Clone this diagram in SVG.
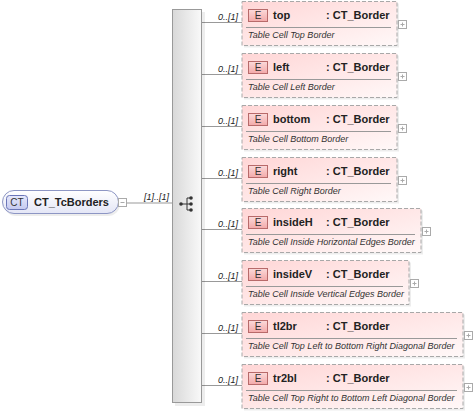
<svg xmlns="http://www.w3.org/2000/svg" width="473" height="415" viewBox="0 0 473 415">
<style>
.lbl{font-family:"Liberation Sans",Arial,sans-serif;font-size:9px;font-style:italic;fill:#222}
.nm{font-family:"Liberation Sans",Arial,sans-serif;font-size:11px;font-weight:bold;fill:#222}
.ds{font-family:"Liberation Sans",Arial,sans-serif;font-size:9px;font-style:italic;fill:#333}
.box{fill:url(#pg);stroke:#a8a8a8;stroke-dasharray:4,2;stroke-width:1}
.shd{fill:#000;opacity:0.07}
.badge{fill:url(#bg);stroke:#b86a6a;stroke-width:1}
.bt{font-family:"Liberation Sans",Arial,sans-serif;font-size:10px;fill:#333;text-anchor:middle}
.sep{stroke:#999;stroke-width:1}
.pm{fill:#fff;stroke:#aaa;stroke-width:1}
.pmc{stroke:#aaa;stroke-width:1}
.con{stroke:#999;stroke-width:1;fill:none}
</style>
<defs>
<linearGradient id="pg" x1="0" y1="0" x2="1" y2="1">
<stop offset="0" stop-color="#ffd6d6"/>
<stop offset="1" stop-color="#fff8f8"/>
</linearGradient>
<linearGradient id="bg" x1="0" y1="0" x2="0" y2="1">
<stop offset="0" stop-color="#fbdada"/>
<stop offset="1" stop-color="#f3a9a9"/>
</linearGradient>
<linearGradient id="sq" x1="0" y1="0" x2="1" y2="0">
<stop offset="0" stop-color="#d8d8d8"/>
<stop offset="1" stop-color="#f9f9f9"/>
</linearGradient>
<linearGradient id="rg" x1="0" y1="0" x2="0" y2="1">
<stop offset="0" stop-color="#ffffff"/>
<stop offset="1" stop-color="#e4e6f6"/>
</linearGradient>
<linearGradient id="cg" x1="0" y1="0" x2="0" y2="1">
<stop offset="0" stop-color="#e6e8fb"/>
<stop offset="1" stop-color="#c4c9ef"/>
</linearGradient>
</defs>

<g id="connectors">
<line class="con" x1="127" y1="203" x2="172" y2="203"/>
<text class="lbl" x="144" y="200">[1]..[1]</text>
<line class="con" x1="202" y1="22.5" x2="242" y2="22.5"/>
<line class="con" x1="202" y1="74.5" x2="242" y2="74.5"/>
<line class="con" x1="202" y1="126.5" x2="242" y2="126.5"/>
<line class="con" x1="202" y1="178.5" x2="242" y2="178.5"/>
<line class="con" x1="202" y1="229.5" x2="242" y2="229.5"/>
<line class="con" x1="202" y1="281.5" x2="242" y2="281.5"/>
<line class="con" x1="202" y1="333.5" x2="242" y2="333.5"/>
<line class="con" x1="202" y1="385.5" x2="242" y2="385.5"/>
<g class="lbl" text-anchor="end">
<text x="238" y="20">0..[1]</text>
<text x="238" y="72">0..[1]</text>
<text x="238" y="124">0..[1]</text>
<text x="238" y="176">0..[1]</text>
<text x="238" y="227">0..[1]</text>
<text x="238" y="279">0..[1]</text>
<text x="238" y="331">0..[1]</text>
<text x="238" y="383">0..[1]</text>
</g>
</g>

<g id="CT_TcBorders">
<rect x="4" y="192" width="116" height="24" rx="12" class="shd"/>
<rect x="2.5" y="190.5" width="116" height="23" rx="11.5" fill="url(#rg)" stroke="#8d96c4"/>
<rect x="6.5" y="195.5" width="21" height="14" rx="3" fill="url(#cg)" stroke="#6b76b8"/>
<text x="17" y="206" class="bt">CT</text>
<text x="34" y="206" class="nm">CT_TcBorders</text>
<rect x="118.5" y="198.5" width="8" height="8" class="pm"/>
<line x1="120.5" y1="202.5" x2="124.5" y2="202.5" class="pmc"/>
</g>

<g id="sequence">
<rect x="175" y="12" width="30" height="394" class="shd"/>
<rect x="172.5" y="9.5" width="29" height="393" fill="url(#sq)" stroke="#999"/>
<g stroke="#333" stroke-width="1" fill="#333">
<line x1="181" y1="204" x2="187" y2="204"/>
<line x1="187" y1="198" x2="187" y2="210"/>
<line x1="187" y1="198" x2="191" y2="198"/>
<line x1="187" y1="204" x2="191" y2="204"/>
<line x1="187" y1="210" x2="191" y2="210"/>
<circle cx="181" cy="204" r="1.8" stroke="none"/>
<circle cx="191" cy="198" r="1.8" stroke="none"/>
<circle cx="191" cy="204" r="1.8" stroke="none"/>
<circle cx="191" cy="210" r="1.8" stroke="none"/>
</g>
</g>

<g id="top">
<rect x="244" y="3.5" width="155" height="44" class="shd"/>
<rect x="242" y="1.5" width="155" height="44" class="box"/>
<rect x="248.5" y="9.5" width="19" height="12" class="badge"/>
<text x="258" y="19" class="bt">E</text>
<text x="273" y="19" class="nm">top</text>
<text x="326" y="19" class="nm">: CT_Border</text>
<line x1="246" y1="27.5" x2="391" y2="27.5" class="sep"/>
<text x="248" y="38" class="ds">Table Cell Top Border</text>
<rect x="398.5" y="20.5" width="8" height="8" class="pm"/>
<path d="M400.5 24.5h4M402.5 22.5v4" class="pmc"/>
</g>

<g id="left">
<rect x="244" y="55.5" width="155" height="44" class="shd"/>
<rect x="242" y="53.5" width="155" height="44" class="box"/>
<rect x="248.5" y="61.5" width="19" height="12" class="badge"/>
<text x="258" y="71" class="bt">E</text>
<text x="273" y="71" class="nm">left</text>
<text x="326" y="71" class="nm">: CT_Border</text>
<line x1="246" y1="79.5" x2="391" y2="79.5" class="sep"/>
<text x="248" y="90" class="ds">Table Cell Left Border</text>
<rect x="398.5" y="72.5" width="8" height="8" class="pm"/>
<path d="M400.5 76.5h4M402.5 74.5v4" class="pmc"/>
</g>

<g id="bottom">
<rect x="244" y="107.5" width="155" height="44" class="shd"/>
<rect x="242" y="105.5" width="155" height="44" class="box"/>
<rect x="248.5" y="113.5" width="19" height="12" class="badge"/>
<text x="258" y="123" class="bt">E</text>
<text x="273" y="123" class="nm">bottom</text>
<text x="326" y="123" class="nm">: CT_Border</text>
<line x1="246" y1="131.5" x2="391" y2="131.5" class="sep"/>
<text x="248" y="142" class="ds">Table Cell Bottom Border</text>
<rect x="398.5" y="124.5" width="8" height="8" class="pm"/>
<path d="M400.5 128.5h4M402.5 126.5v4" class="pmc"/>
</g>

<g id="right">
<rect x="244" y="159.5" width="155" height="44" class="shd"/>
<rect x="242" y="157.5" width="155" height="44" class="box"/>
<rect x="248.5" y="165.5" width="19" height="12" class="badge"/>
<text x="258" y="175" class="bt">E</text>
<text x="273" y="175" class="nm">right</text>
<text x="326" y="175" class="nm">: CT_Border</text>
<line x1="246" y1="183.5" x2="391" y2="183.5" class="sep"/>
<text x="248" y="194" class="ds">Table Cell Right Border</text>
<rect x="398.5" y="176.5" width="8" height="8" class="pm"/>
<path d="M400.5 180.5h4M402.5 178.5v4" class="pmc"/>
</g>

<g id="insideH">
<rect x="244" y="210.5" width="179" height="44" class="shd"/>
<rect x="242" y="208.5" width="179" height="44" class="box"/>
<rect x="248.5" y="216.5" width="19" height="12" class="badge"/>
<text x="258" y="226" class="bt">E</text>
<text x="273" y="226" class="nm">insideH</text>
<text x="326" y="226" class="nm">: CT_Border</text>
<line x1="246" y1="234.5" x2="415" y2="234.5" class="sep"/>
<text x="248" y="245" class="ds">Table Cell Inside Horizontal Edges Border</text>
<rect x="422.5" y="227.5" width="8" height="8" class="pm"/>
<path d="M424.5 231.5h4M426.5 229.5v4" class="pmc"/>
</g>

<g id="insideV">
<rect x="244" y="262.5" width="167" height="44" class="shd"/>
<rect x="242" y="260.5" width="167" height="44" class="box"/>
<rect x="248.5" y="268.5" width="19" height="12" class="badge"/>
<text x="258" y="278" class="bt">E</text>
<text x="273" y="278" class="nm">insideV</text>
<text x="326" y="278" class="nm">: CT_Border</text>
<line x1="246" y1="286.5" x2="403" y2="286.5" class="sep"/>
<text x="248" y="297" class="ds">Table Cell Inside Vertical Edges Border</text>
<rect x="410.5" y="279.5" width="8" height="8" class="pm"/>
<path d="M412.5 283.5h4M414.5 281.5v4" class="pmc"/>
</g>

<g id="tl2br">
<rect x="244" y="314.5" width="221" height="44" class="shd"/>
<rect x="242" y="312.5" width="221" height="44" class="box"/>
<rect x="248.5" y="320.5" width="19" height="12" class="badge"/>
<text x="258" y="330" class="bt">E</text>
<text x="273" y="330" class="nm">tl2br</text>
<text x="326" y="330" class="nm">: CT_Border</text>
<line x1="246" y1="338.5" x2="457" y2="338.5" class="sep"/>
<text x="248" y="349" class="ds">Table Cell Top Left to Bottom Right Diagonal Border</text>
<rect x="464.5" y="331.5" width="8" height="8" class="pm"/>
<path d="M466.5 335.5h4M468.5 333.5v4" class="pmc"/>
</g>

<g id="tr2bl">
<rect x="244" y="366.5" width="221" height="44" class="shd"/>
<rect x="242" y="364.5" width="221" height="44" class="box"/>
<rect x="248.5" y="372.5" width="19" height="12" class="badge"/>
<text x="258" y="382" class="bt">E</text>
<text x="273" y="382" class="nm">tr2bl</text>
<text x="326" y="382" class="nm">: CT_Border</text>
<line x1="246" y1="390.5" x2="457" y2="390.5" class="sep"/>
<text x="248" y="401" class="ds">Table Cell Top Right to Bottom Left Diagonal Border</text>
<rect x="464.5" y="383.5" width="8" height="8" class="pm"/>
<path d="M466.5 387.5h4M468.5 385.5v4" class="pmc"/>
</g>
</svg>
